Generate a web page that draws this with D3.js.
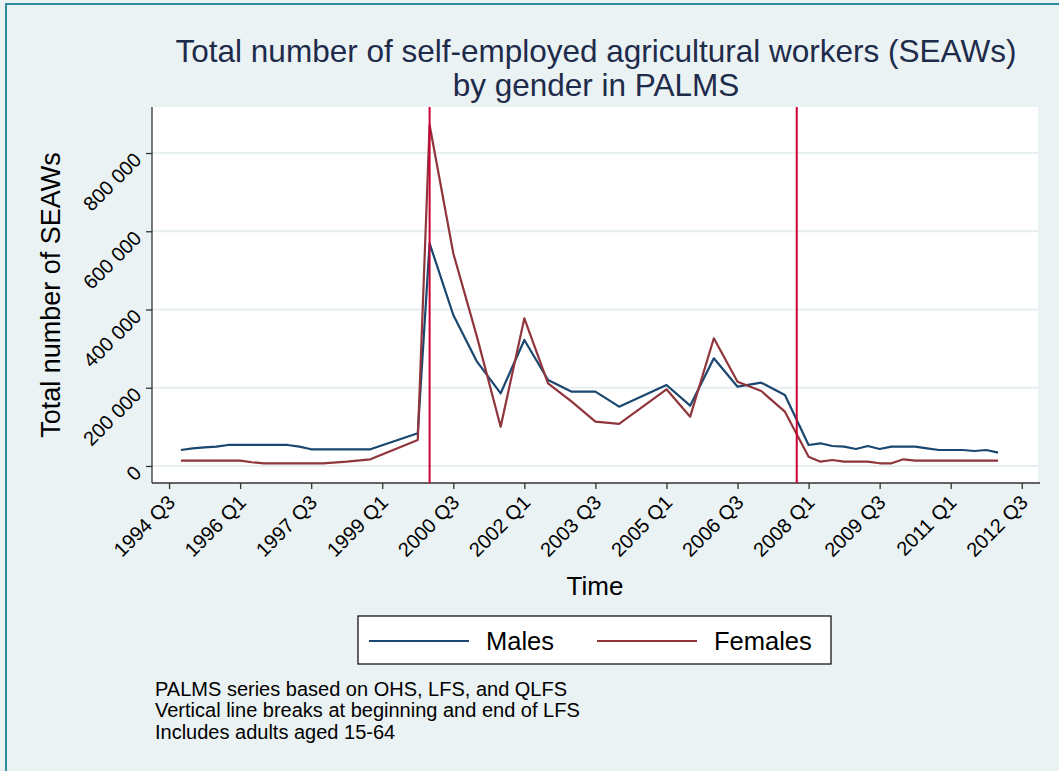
<!DOCTYPE html>
<html lang="en">
<head>
<meta charset="UTF-8">
<title>SEAWs by gender in PALMS</title>
<script src="https://cdn.jsdelivr.net/npm/d3@7"></script>
<style>
	body { margin: 0; background: #eaf2f3; }
	text { font-family: "Liberation Sans", Arial, sans-serif; }
</style>
</head>
<body>
<script>
// quarters, with the two series
var quarters = [
	'1994 Q4','1995 Q1','1995 Q2','1995 Q3','1995 Q4','1996 Q1','1996 Q2','1996 Q3',
	'1997 Q1','1997 Q2','1997 Q3','1997 Q4','1998 Q2','1998 Q4','1999 Q4',
	'2000 Q1','2000 Q3','2001 Q1','2001 Q3','2002 Q1','2002 Q3','2003 Q1','2003 Q3',
	'2004 Q1','2005 Q1','2005 Q3','2006 Q1','2006 Q3','2007 Q1','2007 Q3',
	'2008 Q1','2008 Q2','2008 Q3','2008 Q4','2009 Q1','2009 Q2','2009 Q3','2009 Q4',
	'2010 Q1','2010 Q2','2010 Q3','2010 Q4','2011 Q1','2011 Q2','2011 Q3','2011 Q4','2012 Q1'
];
var males = [
	40900, 45200, 47800, 49300, 53700, 53700, 53700, 53700,
	53700, 49300, 42700, 42700, 42700, 42700, 83600,
	569200, 386000, 266600, 185800, 322100, 219800, 189900, 189900,
	151600, 207000, 154100, 275300, 202700, 212900, 181500,
	53700, 58000, 51100, 49300, 43500, 51100, 43500, 49300,
	49300, 49300, 45200, 40900, 40900, 40900, 38300, 40900, 34000
];
var females = [
	13500, 13500, 13500, 13500, 13500, 13500, 9500, 6900,
	6900, 6900, 6900, 6900, 11000, 17100, 66500,
	871600, 543700, 330000, 100400, 377500, 211400, 164400, 113300,
	107400, 196000, 126000, 326400, 215500, 191700, 138800,
	23800, 11000, 15300, 11000, 11000, 11000, 6900, 6900,
	17100, 13500, 13500, 13500, 13500, 13500, 13500, 13500, 13500
];
var xTickLabels = ['1994 Q3','1996 Q1','1997 Q3','1999 Q1','2000 Q3','2002 Q1','2003 Q3',
	'2005 Q1','2006 Q3','2008 Q1','2009 Q3','2011 Q1','2012 Q3'];
var yTickValues = [0, 200000, 400000, 600000, 800000];
var breakQuarters = ['2000 Q1', '2007 Q4'];
var seriesNames = ['Males', 'Females'];
var notes = [
	'PALMS series based on OHS, LFS, and QLFS',
	'Vertical line breaks at beginning and end of LFS',
	'Includes adults aged 15-64'
];

function qIndex(s) {
	var p = s.split(' Q');
	return (+p[0] - 1994) * 4 + (+p[1] - 1);
}

window.onload = function () {
	var W = 1059, H = 771;
	var plot = { left: 152, right: 1038, top: 107, bottom: 483 };
	var colors = ['#1a476f', '#90353b'];

	var svg = d3.select('body').append('svg')
		.attr('width', W).attr('height', H);

	svg.append('rect').attr('width', W).attr('height', H).attr('fill', '#eaf2f3');
	// frame (top and left visible)
	svg.append('path')
		.attr('d', 'M6,' + H + ' L6,4 L' + W + ',4')
		.attr('fill', 'none').attr('stroke', '#2f8c9e').attr('stroke-width', 2);

	var x = d3.scaleLinear().domain([0.56, 75.37]).range([plot.left, plot.right]);
	var y = d3.scaleLinear().domain([-43500, 917600]).range([plot.bottom, plot.top]);

	svg.append('rect')
		.attr('x', plot.left).attr('y', plot.top)
		.attr('width', plot.right - plot.left).attr('height', plot.bottom - plot.top)
		.attr('fill', '#fff');

	// gridlines
	svg.append('g').selectAll('line').data(yTickValues).enter().append('line')
		.attr('x1', plot.left).attr('x2', plot.right)
		.attr('y1', function (d) { return y(d); }).attr('y2', function (d) { return y(d); })
		.attr('stroke', '#e6eef1').attr('stroke-width', 2);

	// y axis
	var yAxis = svg.append('g')
		.attr('transform', 'translate(' + plot.left + ',0)')
		.call(d3.axisLeft(y).tickValues(yTickValues).tickSize(6).tickSizeOuter(0)
			.tickFormat(function (d) { return d3.format(',')(d).replace(/,/g, ' '); }));
	yAxis.select('.domain').attr('stroke', '#333').attr('stroke-width', 1.3)
		.attr('d', 'M0,' + plot.top + 'V' + plot.bottom);
	yAxis.selectAll('.tick line').attr('stroke', '#333').attr('stroke-width', 1.3);
	yAxis.selectAll('.tick text')
		.attr('x', null).attr('dy', null)
		.attr('transform', 'translate(-13,4) rotate(-45)')
		.attr('text-anchor', 'end')
		.attr('dominant-baseline', 'middle')
		.attr('font-size', 20).attr('fill', '#000');

	// x axis
	var xAxis = svg.append('g')
		.attr('transform', 'translate(0,' + plot.bottom + ')')
		.call(d3.axisBottom(x).tickValues(xTickLabels.map(qIndex)).tickSize(6).tickSizeOuter(0)
			.tickFormat(function (d, i) { return xTickLabels[i]; }));
	xAxis.select('.domain').attr('stroke', '#333').attr('stroke-width', 1.3)
		.attr('d', 'M' + plot.left + ',0H' + (plot.right + 2));
	xAxis.selectAll('.tick line').attr('stroke', '#333').attr('stroke-width', 1.3);
	xAxis.selectAll('.tick text')
		.attr('y', null).attr('dy', null)
		.attr('transform', 'translate(3,17) rotate(-45)')
		.attr('text-anchor', 'end')
		.attr('dominant-baseline', 'middle')
		.attr('font-size', 20).attr('fill', '#000');

	// series
	var series = [males, females];
	var line = d3.line()
		.x(function (d, i) { return x(qIndex(quarters[i])); })
		.y(function (d) { return y(d); });
	series.forEach(function (s, k) {
		svg.append('path').datum(s)
			.attr('d', line)
			.attr('fill', 'none')
			.attr('stroke', colors[k])
			.attr('stroke-width', 2.2)
			.attr('stroke-linejoin', 'round');
	});

	// break lines
	svg.append('g').selectAll('line').data(breakQuarters).enter().append('line')
		.attr('x1', function (d) { return x(qIndex(d)); })
		.attr('x2', function (d) { return x(qIndex(d)); })
		.attr('y1', plot.top).attr('y2', plot.bottom)
		.attr('stroke', '#cc0033').attr('stroke-width', 2);

	// titles
	var title = svg.append('text')
		.attr('text-anchor', 'middle').attr('font-size', 31.5).attr('fill', '#1e2b4a');
	title.append('tspan').attr('x', 596).attr('y', 62)
		.text('Total number of self-employed agricultural workers (SEAWs)');
	title.append('tspan').attr('x', 596).attr('y', 96).text('by gender in PALMS');

	svg.append('text')
		.attr('transform', 'translate(60,295) rotate(-90)')
		.attr('text-anchor', 'middle').attr('font-size', 27)
		.text('Total number of SEAWs');

	svg.append('text')
		.attr('x', 595).attr('y', 595)
		.attr('text-anchor', 'middle').attr('font-size', 26)
		.text('Time');

	// legend
	var lg = svg.append('g');
	lg.append('rect')
		.attr('x', 358).attr('y', 616).attr('width', 473).attr('height', 48)
		.attr('fill', '#fff').attr('stroke', '#000').attr('stroke-width', 1.2);
	var legX = [369, 597];
	seriesNames.forEach(function (n, k) {
		lg.append('line')
			.attr('x1', legX[k]).attr('x2', legX[k] + 100)
			.attr('y1', 641).attr('y2', 641)
			.attr('stroke', colors[k]).attr('stroke-width', 2.2);
		lg.append('text')
			.attr('x', legX[k] + 117).attr('y', 650)
			.attr('font-size', 25.5)
			.text(n);
	});

	// notes
	svg.append('g').selectAll('text').data(notes).enter().append('text')
		.attr('x', 155)
		.attr('y', function (d, i) { return 696 + i * 21.3; })
		.attr('font-size', 20)
		.text(function (d) { return d; });
};
</script>
</body>
</html>
